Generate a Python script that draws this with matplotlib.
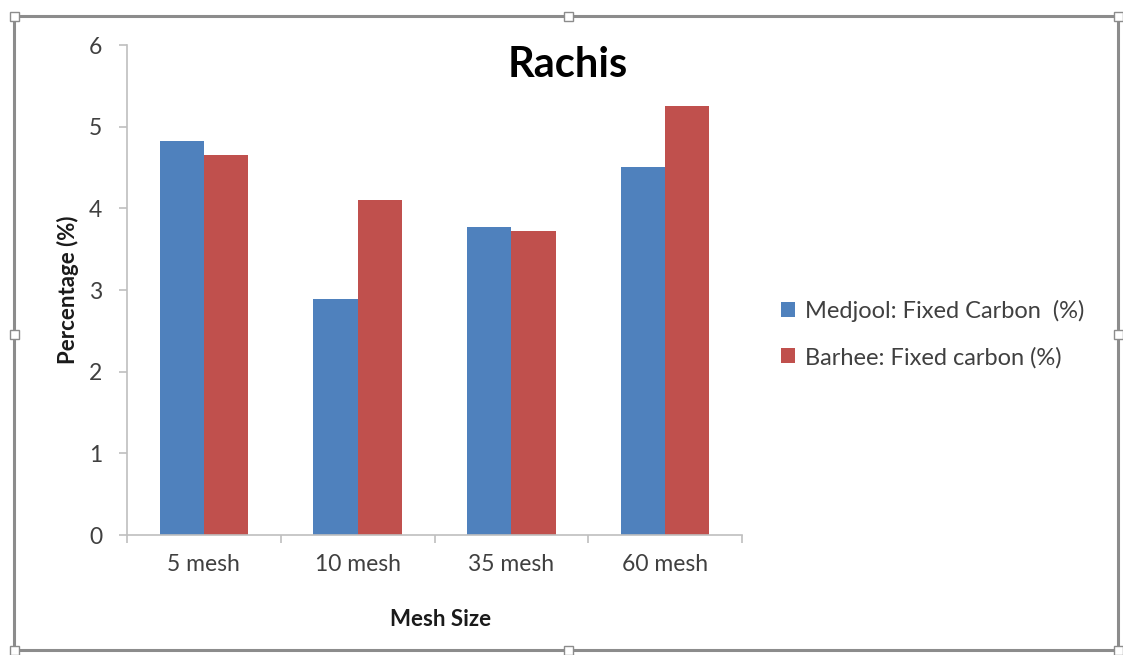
import matplotlib
matplotlib.use("Agg")
import matplotlib.pyplot as plt
from matplotlib.patches import Rectangle
import numpy as np

categories = ["5 mesh", "10 mesh", "35 mesh", "60 mesh"]
medjool = [4.83, 2.89, 3.77, 4.51]
barhee = [4.65, 4.10, 3.72, 5.25]
series_labels = ["Medjool: Fixed Carbon  (%)", "Barhee: Fixed carbon (%)"]
y_ticks = [0, 1, 2, 3, 4, 5, 6]

plt.rcParams["font.family"] = ["Lato", "DejaVu Sans"]

W, H = 1123, 655
fig = plt.figure(figsize=(W / 100, H / 100), dpi=100)
fig.patch.set_facecolor("white")

ax = fig.add_axes([127 / W, 1 - 535 / H, (742 - 127) / W, (535 - 45) / H])

x = np.arange(len(categories))
bw = 0.287
ax.bar(x - bw / 2, medjool, width=bw, color="#4F81BD", label=series_labels[0])
ax.bar(x + bw / 2, barhee, width=bw, color="#C0504D", label=series_labels[1])

ax.set_xlim(-0.5, len(categories) - 0.5)
ax.set_ylim(0, 6)
ax.set_yticks(y_ticks)
ax.set_yticklabels([str(t) for t in y_ticks])
ax.set_xticks(x)
ax.set_xticklabels(categories)
ax.set_xticks(np.arange(len(categories) + 1) - 0.5, minor=True)

for side in ["top", "right"]:
    ax.spines[side].set_visible(False)
for side in ["left", "bottom"]:
    ax.spines[side].set_color("#bfbfbf")
    ax.spines[side].set_linewidth(1.2)

ax.tick_params(axis="y", length=6, width=1.2, color="#bfbfbf", labelsize=16.5,
               labelcolor="#404040", pad=12)
ax.tick_params(axis="x", which="major", length=0, labelsize=16.5,
               labelcolor="#404040", pad=14)
ax.tick_params(axis="x", which="minor", length=6, width=1.2, color="#bfbfbf")

ax.set_ylabel("Percentage (%)", fontsize=16, fontweight="bold", color="#1a1a1a")
ax.set_xlabel("Mesh Size", fontsize=16, fontweight="bold", color="#1a1a1a")
ax.xaxis.set_label_coords((441 - 127) / (742 - 127), -(620 - 535) / (535 - 45))
ax.xaxis.label.set_va("center")
ax.yaxis.set_label_coords(-(127 - 68) / (742 - 127), (535 - 290) / (535 - 45))
ax.yaxis.label.set_va("center")

fig.text(568 / W, 1 - 65 / H, "Rachis", fontsize=30, fontweight="bold",
         ha="center", va="center", color="black")

leg = fig.legend(loc="center left", bbox_to_anchor=(760 / W, 1 - 334 / H),
                 frameon=False, fontsize=17, handlelength=0.6, handleheight=0.6,
                 handletextpad=0.4, labelspacing=1.05)
for t in leg.get_texts():
    t.set_color("#404040")

# selection frame around the chart with resize handles
frame = Rectangle((14 / W, 1 - 650 / H), (1118 - 14) / W, (650 - 16) / H,
                  transform=fig.transFigure, fill=False, edgecolor="#8c8c8c",
                  linewidth=2.2)
fig.add_artist(frame)
hx = [14, 568, 1118]
hy = [16, 334, 650]
for px in hx:
    for py in hy:
        if px == 568 and py == 334:
            continue
        s = 9
        fig.add_artist(Rectangle(((px - s / 2) / W, 1 - (py + s / 2) / H), s / W, s / H,
                                 transform=fig.transFigure, facecolor="white",
                                 edgecolor="#8c8c8c", linewidth=1.0, zorder=5))

fig.savefig("out.png", dpi=100, facecolor="white")
